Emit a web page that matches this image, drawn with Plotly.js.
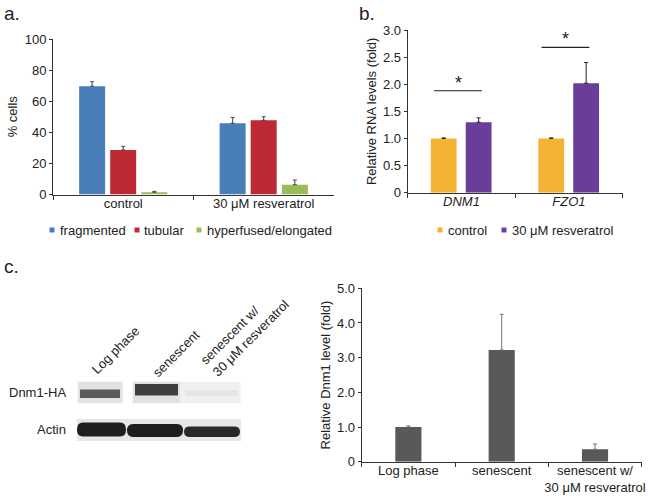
<!DOCTYPE html>
<html><head><meta charset="utf-8">
<script src="https://cdn.plot.ly/plotly-3.0.1.min.js"></script>
<style>html,body{margin:0;padding:0;background:#fff}</style>
</head><body><div id="chart" style="width:648px;height:499px"></div>
<script>
// ---------- Panel a data ----------
const aCategories = ['control', '30 μM resveratrol'];
const aSeries = ['fragmented', 'tubular', 'hyperfused/elongated'];
const aFragmented = [69.6, 45.8];
const aFragmentedErr = [2.9, 3.8];
const aTubular = [28.6, 47.7];
const aTubularErr = [2.4, 2.3];
const aHyperfused = [1.4, 6.3];
const aHyperfusedErr = [0.6, 3.0];
const aTickVals = [0, 20, 40, 60, 80, 100];

// ---------- Panel b data ----------
const bCategories = ['<i>DNM1</i>', '<i>FZO1</i>'];
const bSeries = ['control', '30 μM resveratrol'];
const bControl = [1.0, 1.0];
const bControlErr = [0.01, 0.01];
const bResveratrol = [1.30, 2.02];
const bResveratrolErr = [0.08, 0.38];
const bSigLevel = [1.88, 2.68];
const bTickVals = [0, 0.5, 1, 1.5, 2, 2.5, 3];
const bTickText = ['0', '0.5', '1.0', '1.5', '2.0', '2.5', '3.0'];

// ---------- Panel c data ----------
const cCategories = ['Log phase', 'senescent', 'senescent w/<br>30 μM resveratrol'];
const cLevels = [1.0, 3.22, 0.36];
const cErr = [0.03, 1.03, 0.15];
const cTickVals = [0, 1, 2, 3, 4, 5];
const cTickText = ['0', '1.0', '2.0', '3.0', '4.0', '5.0'];
const blotLaneLabels = ['Log phase', 'senescent', 'senescent w/<br>30 μM resveratrol'];
const blotRows = ['Dnm1-HA', 'Actin'];
const dnm1Intensity = [0.80, 0.95, 0.04];
const actinIntensity = [1.0, 1.0, 0.95];

// ---------- styling / geometry ----------
const W = 648, H = 499;
const px = x => x / W, py = y => 1 - y / H;
const FONT = 'Liberation Sans, Arial, sans-serif';
const TXT = '#222';
const FS = 13;
const aColors = ['#4a7ebb', '#be2a33', '#9bbb59'];
const bColors = ['#f5b335', '#6a3d9a'];
const cColor = '#595959';

const zeros = n => new Array(n).fill(0);
function bar(x, y, err, name, color, xa, ya, offset, width, errColor) {
  return {
    type: 'bar', x: x, y: y, name: name, xaxis: xa, yaxis: ya,
    offset: offset, width: width, showlegend: false,
    marker: {color: color, line: {width: 0}},
    error_y: {type: 'data', symmetric: false, array: err, arrayminus: zeros(err.length),
      color: errColor, thickness: 1, width: 2},
    hoverinfo: 'x+y+name'
  };
}

const aVals = [aFragmented, aTubular, aHyperfused];
const aErrs = [aFragmentedErr, aTubularErr, aHyperfusedErr];
const aOffsets = [-0.314, -0.093, 0.129];
const traces = [];
aSeries.forEach((s, i) => traces.push(bar(aCategories, aVals[i], aErrs[i], s, aColors[i], 'x', 'y', aOffsets[i], 0.185, '#444')));
const bVals = [bControl, bResveratrol];
const bErrs = [bControlErr, bResveratrolErr];
const bOffsets = [-0.285, 0.04];
bSeries.forEach((s, i) => traces.push(bar(bCategories, bVals[i], bErrs[i], s, bColors[i], 'x2', 'y2', bOffsets[i], 0.24, '#222')));
traces.push(bar(cCategories, cLevels, cErr, 'Dnm1 level', cColor, 'x3', 'y3', -0.14, 0.28, '#777'));

const tickFont = {family: FONT, size: FS, color: TXT};
function xAxis(dom, anchor) {
  return {domain: dom, anchor: anchor, type: 'category', showgrid: false, zeroline: false,
    showline: true, linecolor: '#333', linewidth: 1, ticks: 'outside', ticklen: 4, tickcolor: '#333',
    tickson: 'boundaries', tickangle: 0, ticklabelstandoff: -3, tickfont: tickFont, fixedrange: true};
}
function yAxis(dom, anchor, range, vals, text, title, standoff) {
  return {domain: dom, anchor: anchor, range: range, showgrid: false, zeroline: false,
    showline: true, linecolor: '#333', linewidth: 1, ticks: 'outside', ticklen: 3, tickcolor: '#333',
    tickmode: 'array', tickvals: vals, ticktext: text, tickfont: tickFont, fixedrange: true,
    title: {text: title, font: {family: FONT, size: FS, color: TXT}, standoff: standoff}};
}

const annotations = [];
const shapes = [];
function ann(x, y, text, opts) {
  annotations.push(Object.assign({xref: 'paper', yref: 'paper', x: px(x), y: py(y), text: text,
    showarrow: false, font: {family: FONT, size: FS, color: TXT}}, opts || {}));
}
// panel labels
ann(2, 13, 'a.', {xanchor: 'left', yanchor: 'middle', font: {family: FONT, size: 19, color: TXT}});
ann(357, 13, 'b.', {xanchor: 'left', yanchor: 'middle', font: {family: FONT, size: 19, color: TXT}});
ann(2, 266, 'c.', {xanchor: 'left', yanchor: 'middle', font: {family: FONT, size: 19, color: TXT}});

// legends (a and b)
const aLegendX = [[52, 58], [137, 142], [199, 205]];
aSeries.forEach((s, i) => {
  shapes.push({type: 'rect', xref: 'paper', yref: 'paper', x0: px(aLegendX[i][0] - 2.5), x1: px(aLegendX[i][0] + 2.5),
    y0: py(232.5), y1: py(227.5), fillcolor: aColors[i], line: {width: 0}});
  ann(aLegendX[i][1], 230, s, {xanchor: 'left', yanchor: 'middle'});
});
const bLegendX = [[440, 446], [504, 510]];
bSeries.forEach((s, i) => {
  shapes.push({type: 'rect', xref: 'paper', yref: 'paper', x0: px(bLegendX[i][0] - 2.5), x1: px(bLegendX[i][0] + 2.5),
    y0: py(232.5), y1: py(227.5), fillcolor: bColors[i], line: {width: 0}});
  ann(bLegendX[i][1], 230, s, {xanchor: 'left', yanchor: 'middle'});
});

// significance bars in b
bSigLevel.forEach((lvl, i) => {
  shapes.push({type: 'line', xref: 'x2', yref: 'y2', x0: i - 0.255, x1: i + 0.19, y0: lvl, y1: lvl,
    line: {color: '#222', width: 1.2}});
  annotations.push({xref: 'x2', yref: 'y2', x: i - 0.03, y: lvl, text: '*', showarrow: false,
    xanchor: 'center', yanchor: 'bottom', yshift: -4, font: {family: FONT, size: 18, color: TXT}});
});

// western blot (panel c, left)
const laneX = [[77.7, 122.7], [132.7, 180], [180, 240.7]];
const dnm1BandX = [[80, 120], [135, 178], [185, 238]];
const dnm1BandY = [[389.5, 398], [384, 395.5], [390, 396]];
laneX.forEach((lx, i) => {
  shapes.push({type: 'rect', xref: 'paper', yref: 'paper', x0: px(lx[0]), x1: px(lx[1]), y0: py(403.3), y1: py(381.7),
    fillcolor: i === 2 ? '#f0f0f0' : '#e2e2e2', line: {width: 0}});
});
dnm1Intensity.forEach((v, i) => {
  const g = Math.round(235 - 200 * v);
  shapes.push({type: 'rect', xref: 'paper', yref: 'paper', x0: px(dnm1BandX[i][0]), x1: px(dnm1BandX[i][1]),
    y0: py(dnm1BandY[i][1]), y1: py(dnm1BandY[i][0]), fillcolor: `rgb(${g},${g},${g})`, opacity: 0.9, line: {width: 0}});
});
shapes.push({type: 'rect', xref: 'paper', yref: 'paper', x0: px(77), x1: px(241), y0: py(441), y1: py(419),
  fillcolor: '#e6e6e6', line: {width: 0}});
const actinBandX = [[77, 126], [127, 183], [184, 240]];
const actinBandY = [[422.5, 436.5], [424, 437], [426.5, 437]];
actinIntensity.forEach((v, i) => {
  const g = Math.round(235 - 205 * v);
  const x0 = actinBandX[i][0], x1 = actinBandX[i][1], y0 = actinBandY[i][0], y1 = actinBandY[i][1], ym = (y0 + y1) / 2;
  shapes.push({type: 'path', xref: 'paper', yref: 'paper',
    path: `M ${px(x0)} ${py(ym)} Q ${px(x0)} ${py(y0)} ${px(x0 + 6)} ${py(y0)} L ${px(x1 - 6)} ${py(y0)} ` +
          `Q ${px(x1)} ${py(y0)} ${px(x1)} ${py(ym)} Q ${px(x1)} ${py(y1)} ${px(x1 - 6)} ${py(y1)} ` +
          `L ${px(x0 + 6)} ${py(y1)} Q ${px(x0)} ${py(y1)} ${px(x0)} ${py(ym)} Z`,
    fillcolor: `rgb(${g},${g},${g})`, line: {width: 0}});
});
ann(68, 392, blotRows[0], {xanchor: 'right', yanchor: 'middle'});
ann(68, 429, blotRows[1], {xanchor: 'right', yanchor: 'middle'});
const laneLabelPos = [[115, 350], [176, 353], [245, 332]];
blotLaneLabels.forEach((t, i) => {
  ann(laneLabelPos[i][0], laneLabelPos[i][1], t, {textangle: -45, align: 'left', xanchor: 'center', yanchor: 'middle'});
});

const layout = {
  width: W, height: H, margin: {l: 0, r: 0, t: 0, b: 0},
  paper_bgcolor: '#fff', plot_bgcolor: 'rgba(0,0,0,0)',
  barmode: 'group', showlegend: false,
  font: {family: FONT, color: TXT, size: FS},
  xaxis: Object.assign(xAxis([px(53), px(334)], 'y'), {range: [-0.5, 1.5]}),
  yaxis: yAxis([py(194.5), py(39)], 'x', [0, 100], aTickVals, aTickVals.map(String), '% cells', 4),
  xaxis2: Object.assign(xAxis([px(407.7), px(622.7)], 'y2'), {range: [-0.5, 1.5]}),
  yaxis2: yAxis([py(192.7), py(30)], 'x2', [0, 3], bTickVals, bTickText, 'Relative RNA levels (fold)', 3),
  xaxis3: Object.assign(xAxis([px(361.7), px(641.7)], 'y3'), {range: [-0.5, 2.5]}),
  yaxis3: yAxis([py(461.7), py(288.3)], 'x3', [0, 5], cTickVals, cTickText, 'Relative Dnm1 level (fold)', 3),
  annotations: annotations, shapes: shapes
};
Plotly.newPlot('chart', traces, layout, {displayModeBar: false, staticPlot: true});
</script></body></html>
